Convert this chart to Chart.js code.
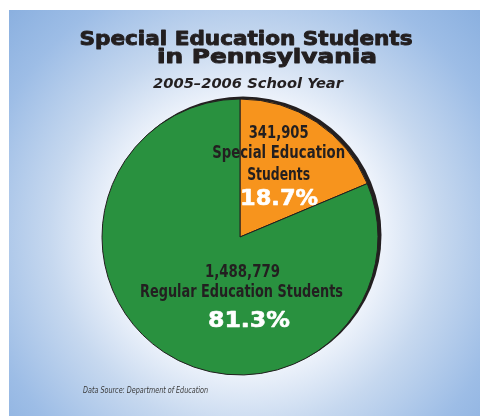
<!DOCTYPE html>
<html>
<head>
<meta charset="utf-8">
<script src="https://cdn.jsdelivr.net/npm/chart.js@4.4.1/dist/chart.umd.min.js"></script>
<style>
  html, body { margin: 0; padding: 0; background: #fff; }
  #wrap { width: 480px; height: 416px; position: relative; }
</style>
</head>
<body>
<div id="wrap"><canvas id="pieChart"></canvas></div>
<script>
// Data
const categories = ["Special Education Students", "Regular Education Students"];
const students = [341905, 1488779];
const percentLabels = ["18.7%", "81.3%"];
const countLabels = ["341,905", "1,488,779"];
const sliceColors = ["#f7941d", "#29913f"];

const darkText = "#231f20";
const labelFont = "'Liberation Sans Narrow', 'DejaVu Sans Condensed', 'Liberation Sans', sans-serif";
const heavyFont = "'DejaVu Sans', 'Liberation Sans', sans-serif";

// Blue panel with white glow behind the pie
const backgroundPlugin = {
  id: "panelBackground",
  beforeDraw(chart) {
    const ctx = chart.ctx;
    ctx.save();
    ctx.fillStyle = "#ffffff";
    ctx.fillRect(0, 0, chart.width, chart.height);
    const g = ctx.createRadialGradient(245, 235, 60, 245, 235, 330);
    g.addColorStop(0, "#ffffff");
    g.addColorStop(0.28, "#eef3fb");
    g.addColorStop(0.5, "#c6d8ef");
    g.addColorStop(0.78, "#9dbde6");
    g.addColorStop(1, "#89afdf");
    ctx.fillStyle = g;
    ctx.fillRect(9, 10, chart.width - 9, chart.height - 10);
    ctx.restore();
  }
};

// Black offset shadow under the pie
const shadowPlugin = {
  id: "pieShadow",
  beforeDatasetsDraw(chart) {
    const arc = chart.getDatasetMeta(0).data[0];
    if (!arc) return;
    const ctx = chart.ctx;
    ctx.save();
    ctx.fillStyle = darkText;
    ctx.beginPath();
    ctx.arc(arc.x + 3, arc.y - 2, arc.outerRadius + 0.5, 0, Math.PI * 2);
    ctx.fill();
    ctx.restore();
  }
};

// draws each line squeezed/stretched to the width seen in the picture
function drawLines(ctx, lines) {
  lines.forEach((l) => {
    ctx.save();
    ctx.font = l.font;
    ctx.fillStyle = l.color;
    ctx.textAlign = "left";
    ctx.textBaseline = "alphabetic";
    const w = ctx.measureText(l.text).width;
    const sx = l.width ? l.width / w : 1;
    const left = l.align === "left" ? l.x : l.x - (w * sx) / 2;
    ctx.translate(left, l.y);
    ctx.scale(sx, 1);
    ctx.fillText(l.text, 0, 0);
    if (l.stroke) {
      ctx.strokeStyle = l.color;
      ctx.lineWidth = l.stroke;
      ctx.lineJoin = "round";
      ctx.strokeText(l.text, 0, 0);
    }
    ctx.restore();
  });
}

// Titles, slice labels and source note
const textPlugin = {
  id: "textLabels",
  afterDraw(chart) {
    const ctx = chart.ctx;
    const arc = chart.getDatasetMeta(0).data[0];
    const cx = arc.x, cy = arc.y, r = arc.outerRadius;
    const t1 = "bold 19px " + heavyFont;
    const lf = "bold 17px " + labelFont;
    const pf = "bold 21px " + heavyFont;
    ctx.save();
    drawLines(ctx, [
      { text: "Special Education Students", x: 246, y: 45, width: 333, font: t1, color: darkText, stroke: 0.9 },
      { text: "in Pennsylvania", x: 267, y: 63, width: 220, font: t1, color: darkText, stroke: 0.9 },
      { text: "2005–2006 School Year", x: 248, y: 88, width: 190, font: "italic bold 14px " + heavyFont, color: darkText },

      { text: countLabels[0], x: cx + r * 0.28, y: cy - r * 0.72, width: 60, font: lf, color: darkText },
      { text: "Special Education", x: cx + r * 0.28, y: cy - r * 0.572, width: 133, font: lf, color: darkText },
      { text: "Students", x: cx + r * 0.28, y: cy - r * 0.413, width: 63, font: lf, color: darkText },
      { text: percentLabels[0], x: cx + r * 0.283, y: cy - r * 0.232, width: 78, font: pf, color: "#ffffff", stroke: 0.6 },

      { text: countLabels[1], x: cx + r * 0.018, y: cy + r * 0.29, width: 75, font: lf, color: darkText },
      { text: "Regular Education Students", x: cx + r * 0.011, y: cy + r * 0.435, width: 203, font: lf, color: darkText },
      { text: percentLabels[1], x: cx + r * 0.065, y: cy + r * 0.652, width: 82, font: pf, color: "#ffffff", stroke: 0.6 },

      { text: "Data Source: Department of Education", x: 83, y: 393, width: 125, font: "italic 8px " + labelFont, color: "#3a3a3a", align: "left" }
    ]);
    ctx.restore();
  }
};

const ctx = document.getElementById("pieChart").getContext("2d");
new Chart(ctx, {
  type: "pie",
  data: {
    labels: categories,
    datasets: [{
      data: students,
      backgroundColor: sliceColors,
      borderColor: darkText,
      borderWidth: 1,
      radius: 138
    }]
  },
  options: {
    responsive: true,
    maintainAspectRatio: false,
    animation: false,
    layout: { padding: { left: 102, right: 102, top: 99, bottom: 41 } },
    plugins: {
      legend: { display: false },
      tooltip: { enabled: false },
      title: { display: false }
    }
  },
  plugins: [backgroundPlugin, shadowPlugin, textPlugin]
});
</script>
</body>
</html>
